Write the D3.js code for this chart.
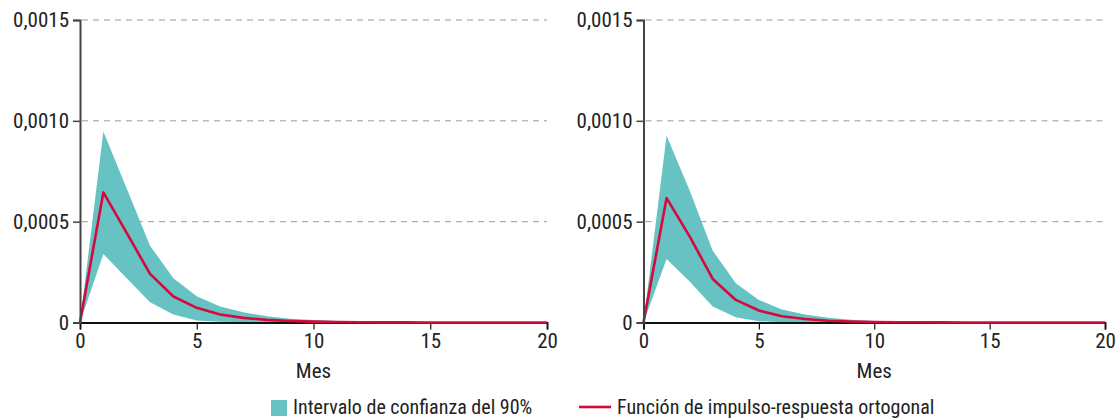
<!DOCTYPE html>
<html>
<head>
<meta charset="utf-8">
<script src="https://cdn.jsdelivr.net/npm/d3@7"></script>
<style>
  body { margin: 0; background: #fff; }
  svg text { font-family: "Liberation Sans Narrow", "Roboto Condensed", "DejaVu Sans Condensed", sans-serif; fill: #222; }
</style>
</head>
<body>
<svg id="chart" width="1119" height="418"></svg>
<script>
const months = d3.range(0, 21);
const yTicks = [0, 0.0005, 0.0010, 0.0015];
const xTicks = [0, 5, 10, 15, 20];

// panel 1
const leftMid = [0, 0.000645, 0.000444, 0.000241, 0.000129, 0.0000726, 0.0000396, 0.000023, 0.000013, 0.0000075, 0.0000042,
  0.0000024, 0.0000014, 0.0000008, 0.0000005, 0.0000003, 0.0000002, 0.0000001, 0.0000001, 0.00000005, 0.00000003];
const leftUpper = [0, 0.000947, 0.000665, 0.000381, 0.000219, 0.00013, 0.0000792, 0.000051, 0.000031, 0.000019, 0.000012,
  0.0000075, 0.0000047, 0.000003, 0.0000019, 0.0000012, 0.0000008, 0.0000005, 0.0000003, 0.0000002, 0.0000001];
const leftLower = [0, 0.00034, 0.00022, 0.0001, 0.0000396, 0.00001, 0.000004, 0.0000015, 0.0000005, 0.0000002, 0.0000001,
  0, 0, 0, 0, 0, 0, 0, 0, 0, 0];

// panel 2
const rightMid = [0, 0.000617, 0.000427, 0.000216, 0.000112, 0.0000594, 0.000031, 0.000017, 0.000009, 0.000005, 0.0000028,
  0.0000016, 0.0000009, 0.0000005, 0.0000003, 0.0000002, 0.0000001, 0.0000001, 0.00000005, 0.00000003, 0.00000002];
const rightUpper = [0, 0.000926, 0.000655, 0.000356, 0.000195, 0.000112, 0.0000644, 0.0000396, 0.000024, 0.000014, 0.000008,
  0.000005, 0.000003, 0.0000019, 0.0000012, 0.0000008, 0.0000005, 0.0000003, 0.0000002, 0.0000001, 0.0000001];
const rightLower = [0, 0.000315, 0.000203, 0.0000792, 0.000026, 0.0000064, 0.000001, 0.0000003, 0.0000001, 0, 0,
  0, 0, 0, 0, 0, 0, 0, 0, 0, 0];

const xLabel = "Mes";
const legendBand = "Intervalo de confianza del 90%";
const legendLine = "Función de impulso-respuesta ortogonal";

const bandColor = "#66c2c3";
const lineColor = "#d6093d";

const svg = d3.select("#chart");
const fontSize = 21;
const legendSize = 20;

const locale = d3.formatLocale({ decimal: ",", thousands: ".", grouping: [3], currency: ["", "€"] });
const fmt = locale.format(".4f");

const panels = [
  { left: 80, right: 547, mid: leftMid, upper: leftUpper, lower: leftLower },
  { left: 643.5, right: 1105, mid: rightMid, upper: rightUpper, lower: rightLower }
];

const y = d3.scaleLinear().domain([0, 0.0015]).range([322.5, 20]);

panels.forEach(p => {
  const x = d3.scaleLinear().domain([0, 20]).range([p.left, p.right]);
  const g = svg.append("g");

  // dashed gridlines
  g.selectAll(".grid")
    .data(yTicks.filter(d => d > 0))
    .enter().append("line")
    .attr("x1", p.left + 2)
    .attr("x2", p.right)
    .attr("y1", d => y(d))
    .attr("y2", d => y(d))
    .attr("stroke", "#999")
    .attr("stroke-width", 1)
    .attr("stroke-dasharray", "6,5");

  const area = d3.area()
    .x((d, i) => x(months[i]))
    .y0((d, i) => y(p.lower[i]))
    .y1((d, i) => y(p.upper[i]));

  g.append("path")
    .datum(p.upper)
    .attr("d", area)
    .attr("fill", bandColor);

  // x axis
  const xAxis = d3.axisBottom(x).tickValues(xTicks).tickSize(7).tickPadding(4);
  const gx = g.append("g")
    .attr("transform", `translate(0,${y(0)})`)
    .call(xAxis);
  gx.select(".domain").attr("stroke", "#111").attr("stroke-width", 1.8);
  gx.selectAll(".tick line").attr("stroke", "#111").attr("stroke-width", 1.2);
  gx.selectAll(".tick text").attr("font-size", fontSize).attr("fill", "#222");

  const line = d3.line()
    .x((d, i) => x(months[i]))
    .y(d => y(d));

  g.append("path")
    .datum(p.mid)
    .attr("d", line)
    .attr("fill", "none")
    .attr("stroke", lineColor)
    .attr("stroke-width", 2.6)
    .attr("stroke-linejoin", "round");

  // y axis
  const yAxis = d3.axisLeft(y).tickValues(yTicks).tickSize(7).tickPadding(4)
    .tickFormat(d => d === 0 ? "0" : fmt(d));
  const gy = g.append("g")
    .attr("transform", `translate(${p.left},0)`)
    .call(yAxis);
  gy.select(".domain").attr("stroke", "#444").attr("stroke-width", 2);
  gy.selectAll(".tick line").attr("stroke", "#444").attr("stroke-width", 1.5);
  gy.selectAll(".tick text").attr("font-size", fontSize).attr("fill", "#222");

  g.append("text")
    .attr("x", (p.left + p.right) / 2)
    .attr("y", 378)
    .attr("text-anchor", "middle")
    .attr("font-size", fontSize)
    .text(xLabel);
});

// legend
const legend = svg.append("g");
legend.append("rect")
  .attr("x", 271).attr("y", 400)
  .attr("width", 16).attr("height", 16)
  .attr("fill", bandColor);
legend.append("text")
  .attr("x", 293).attr("y", 414)
  .attr("font-size", legendSize)
  .text(legendBand);
legend.append("line")
  .attr("x1", 579).attr("x2", 611)
  .attr("y1", 407).attr("y2", 407)
  .attr("stroke", lineColor)
  .attr("stroke-width", 2.6);
legend.append("text")
  .attr("x", 617).attr("y", 414)
  .attr("font-size", legendSize)
  .text(legendLine);
</script>
</body>
</html>
